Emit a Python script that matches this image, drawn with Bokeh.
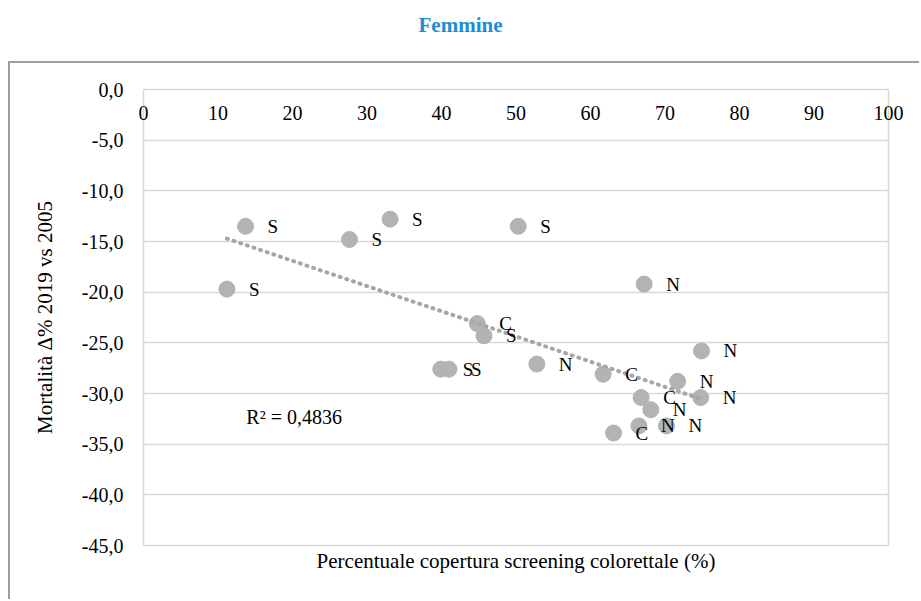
import numpy as np
from bokeh.plotting import figure
from bokeh.models import (Range1d, FixedTicker, CustomJSTickFormatter, ColumnDataSource,
                          Title, Div, Label)
from bokeh.layouts import column
from bokeh.core.properties import value
from bokeh.embed import file_html
from bokeh.resources import INLINE

# ---- data ----
coverage = [13.7, 27.65, 33.1, 50.3, 11.2, 44.8, 45.7, 39.9, 41.0, 52.8,
            61.7, 67.2, 74.9, 71.7, 74.8, 66.8, 68.1, 66.5, 70.2, 63.1]
mortality = [-13.5, -14.8, -12.8, -13.5, -19.7, -23.1, -24.3, -27.6, -27.6, -27.1,
             -28.1, -19.2, -25.8, -28.8, -30.4, -30.4, -31.6, -33.2, -33.2, -33.9]
area = ["S", "S", "S", "S", "S", "C", "S", "S", "S", "N",
        "C", "N", "N", "N", "N", "C", "N", "N", "N", "C"]
x_ticks = list(range(0, 101, 10))
y_ticks = list(range(-45, 1, 5))
title_text = "Femmine"
x_title = "Percentuale copertura screening colorettale (%)"
y_title = "Mortalità Δ% 2019 vs 2005"
r2_text = "R² = 0,4836"
r2_pos = (13.8, -32.3)

SERIF = "Liberation Serif"

src = ColumnDataSource(dict(x=coverage, y=mortality, lab=area))

p = figure(width=911, height=538, output_backend="svg", toolbar_location=None,
           x_range=Range1d(0, 100), y_range=Range1d(-45, 0),
           x_axis_location="above",
           min_border_left=133, min_border_right=33, min_border_top=26, min_border_bottom=56,
           margin=(0, 0, 0, 8),
           styles={"border-top": "2px solid #9f9f9f", "border-left": "2px solid #9f9f9f"})
p.outline_line_color = "#d9d9d9"
p.outline_line_width = 1.5
p.background_fill_color = "white"
p.border_fill_color = "white"

# x axis: tick labels drawn just below the 0 line, inside the frame
xa = p.xaxis[0]
xa.ticker = FixedTicker(ticks=x_ticks)
xa.axis_line_color = None
xa.major_tick_line_color = None
xa.minor_tick_line_color = None
xa.major_tick_out = 0
xa.major_tick_in = 0
xa.minor_tick_out = 0
xa.major_label_standoff = -30
xa.major_label_text_font = SERIF
xa.major_label_text_font_size = "20px"
xa.major_label_text_color = "#000000"

# y axis
ya = p.yaxis[0]
ya.ticker = FixedTicker(ticks=y_ticks)
ya.formatter = CustomJSTickFormatter(code="return tick.toFixed(1).replace('.', ',');")
ya.axis_line_color = None
ya.major_tick_line_color = None
ya.minor_tick_line_color = None
ya.major_tick_out = 0
ya.major_tick_in = 0
ya.minor_tick_out = 0
ya.major_label_standoff = 20
ya.major_label_text_font = SERIF
ya.major_label_text_font_size = "20px"
ya.major_label_text_color = "#000000"
ya.axis_label = y_title
ya.axis_label_text_font = SERIF
ya.axis_label_text_font_size = "21px"
ya.axis_label_text_font_style = "normal"
ya.axis_label_text_color = "#000000"
ya.axis_label_standoff = 22

p.xgrid.grid_line_color = None
p.ygrid.ticker = FixedTicker(ticks=y_ticks)
p.ygrid.grid_line_color = "#d9d9d9"
p.ygrid.grid_line_width = 1.5

p.add_layout(Title(text=x_title, align="center", text_font=SERIF, text_font_size="21px",
                   text_font_style="normal", text_color="#000000", standoff=2), "below")

# points
p.scatter("x", "y", source=src, size=16, fill_color="#b3b3b3", line_color="#b3b3b3")

# linear trendline (least squares on the data)
slope, intercept = np.polyfit(coverage, mortality, 1)
tx = np.array([min(coverage), max(coverage)])
p.line(tx, slope * tx + intercept, line_color="#a6a6a6", line_width=4,
       line_dash="1 6", line_cap="round")

# data labels
p.text("x", "y", text="lab", source=src, x_offset=22, text_align="left",
       text_baseline="middle", text_font=value(SERIF), text_font_size="19px",
       text_color="#000000")

p.add_layout(Label(x=r2_pos[0], y=r2_pos[1], text=r2_text, text_font=SERIF,
                   text_font_size="20px", text_baseline="middle", text_align="left",
                   text_color="#000000"))

title = Div(text=title_text,
            styles={"width": "921px", "text-align": "center", "font-family": "Liberation Serif",
                    "font-weight": "bold", "font-size": "21px", "color": "#1d8dd5",
                    "padding-top": "10px"},
            width=921, height=61, margin=(0, 0, 0, 0))

layout = column(title, p, spacing=0)

open("out.html", "w").write(file_html(layout, INLINE))
